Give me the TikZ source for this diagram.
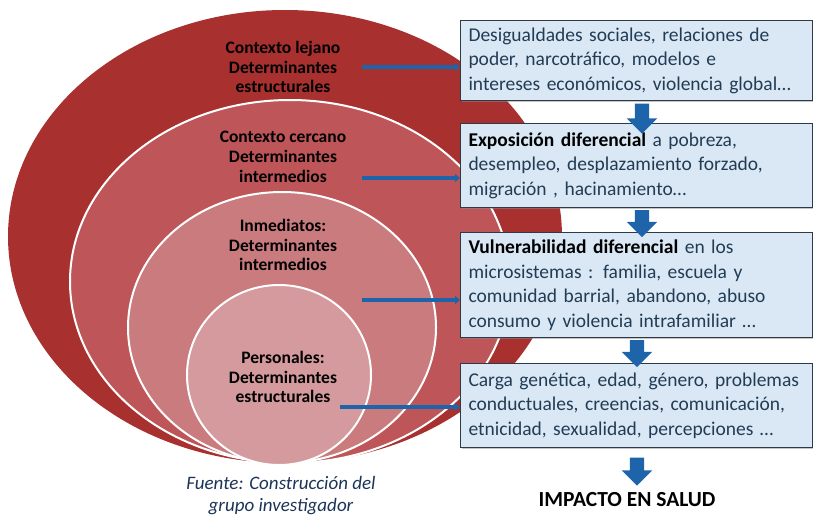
\documentclass[tikz,border=0pt]{standalone}
\usepackage{fontspec}
\setmainfont{Carlito}
\usetikzlibrary{arrows.meta,shapes.arrows,shadows}

\definecolor{rojoA}{HTML}{A8302F}
\definecolor{rojoB}{HTML}{BE5558}
\definecolor{rojoC}{HTML}{C97B7E}
\definecolor{rojoD}{HTML}{D49A9D}
\definecolor{azul}{HTML}{1E64AA}
\definecolor{fondo}{HTML}{D9E8F4}
\definecolor{borde}{HTML}{2E3B46}
\definecolor{texto}{HTML}{223C55}
\definecolor{fuente}{HTML}{1C3557}

\begin{document}
\begin{tikzpicture}[x=1pt,y=-1pt,
		capa/.style={draw=white, line width=2pt},
		etiq/.style={align=center, font=\fontsize{17.5}{19.8}\selectfont\bfseries},
		caja/.style={draw=borde, line width=1pt, fill=fondo, text=texto, anchor=north west, minimum width=352pt, text width=336pt, inner xsep=8pt, align=left, font=\fontsize{19.5}{24.5}\selectfont, drop shadow={shadow xshift=1pt, shadow yshift=-1.5pt, fill=black!45}},
		liga/.style={draw=azul, line width=3.5pt, -{Triangle[length=5pt,width=8pt]}},
		baja/.style={single arrow, shape border rotate=270, fill=azul, inner sep=7pt, minimum width=30pt, single arrow head extend=8pt}
	]
	\useasboundingbox (0,0) rectangle (813,519);

	\fill[rojoA] (285,236.5) ellipse [x radius=277, y radius=226.5];
	\filldraw[fill=rojoB, capa] (290,281.5) ellipse [x radius=220, y radius=181.5];
	\filldraw[fill=rojoC, capa] (282,327.5) ellipse [x radius=154, y radius=135.5];
	\filldraw[fill=rojoD, capa] (279,375) ellipse [x radius=92, y radius=90];

	\node[etiq] (lejano) at (283,67) {Contexto lejano\\Determinantes\\estructurales};
	\node[etiq] (cercano) at (283,157) {Contexto cercano\\Determinantes\\intermedios};
	\node[etiq] (inmediatos) at (283,245) {Inmediatos:\\Determinantes\\intermedios};
	\node[etiq] (personales) at (283,377) {Personales:\\Determinantes\\estructurales};

	\node[caja, minimum height=80pt] (caja1) at (460,20) {Desigualdades sociales, relaciones de\\poder, narcotráfico, modelos e\\intereses económicos, violencia global…};
	\node[caja, minimum height=84pt] (caja2) at (460,123) {\textcolor{black}{\bfseries Exposición diferencial} a pobreza,\\desempleo, desplazamiento forzado,\\migración , hacinamiento…};
	\node[caja, minimum height=105pt] (caja3) at (460,232) {\textcolor{black}{\bfseries Vulnerabilidad diferencial} en los\\microsistemas : familia, escuela y\\comunidad barrial, abandono, abuso\\consumo y violencia intrafamiliar …};
	\node[caja, minimum height=84pt] (caja4) at (460,363) {Carga genética, edad, género, problemas\\conductuales, creencias, comunicación,\\etnicidad, sexualidad, percepciones …};

	\coordinate (c1) at (362,67);
	\coordinate (c2) at (362,178);
	\coordinate (c3) at (362,300);
	\coordinate (c4) at (340,407);
	\draw[liga] (c1) -- (c1 -| caja1.west);
	\draw[liga] (c2) -- (c2 -| caja2.west);
	\draw[liga] (c3) -- (c3 -| caja3.west);
	\draw[liga] (c4) -- (c4 -| caja4.west);

	\node[baja, minimum height=30pt] (b1) at (642,115) {};
	\node[baja, minimum height=27pt] (b2) at (642,220) {};
	\node[baja, minimum height=27pt] (b3) at (637,350) {};
	\node[baja, minimum height=28pt] (b4) at (637,468) {};

	\node[font=\fontsize{21.5}{24}\selectfont\bfseries] (impacto) at (627,500) {IMPACTO EN SALUD};
	\node[align=center, text=fuente, font=\fontsize{19}{22}\selectfont\itshape] (nota) at (281,496) {Fuente: Construcción del\\grupo investigador};
\end{tikzpicture}
\end{document}
